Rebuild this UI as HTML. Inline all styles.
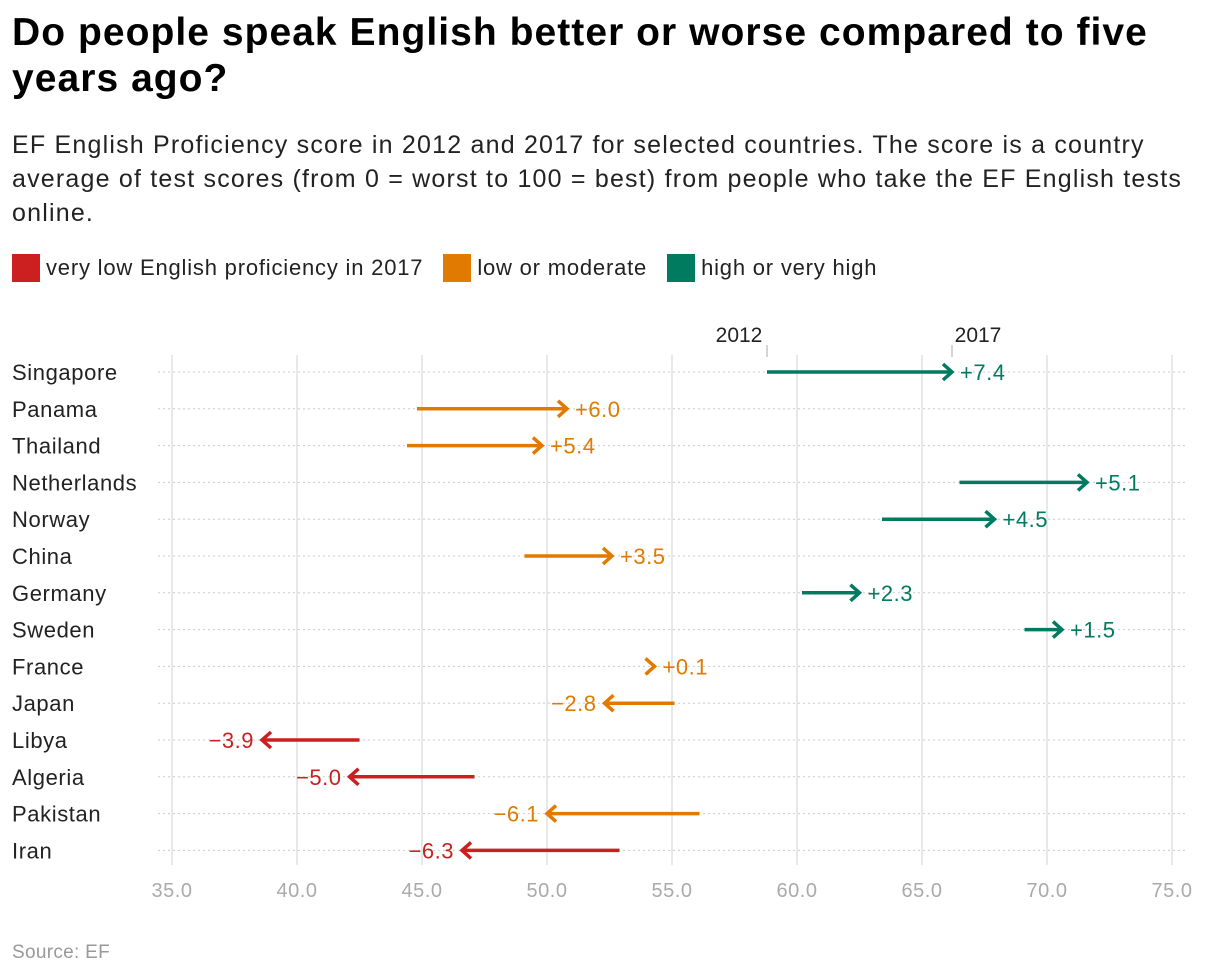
<!DOCTYPE html>
<html><head><meta charset="utf-8">
<style>
body{margin:0;width:1220px;height:978px;background:#fff;font-family:"Liberation Sans",sans-serif;overflow:hidden;position:relative}
h1{position:absolute;left:12px;top:10px;margin:0;font-size:39px;line-height:46px;font-weight:bold;color:#000;width:1210px;white-space:nowrap;letter-spacing:1.05px}
.sub{position:absolute;left:12px;top:128px;font-size:25px;line-height:34px;color:#222;width:1210px;white-space:nowrap;letter-spacing:1.2px}
.legend{position:absolute;left:12px;top:254px;font-size:22px;color:#222;display:flex;align-items:center;letter-spacing:0.8px;white-space:nowrap}
.sw{display:inline-block;width:28px;height:28px;margin-right:6px;vertical-align:middle}
.li{display:flex;align-items:center;margin-right:20px}
.src{position:absolute;left:12px;top:942px;font-size:19px;color:#999;letter-spacing:0.3px}
svg{position:absolute;left:0;top:0}
</style></head><body>
<h1>Do people speak English better or worse compared to five<br>years ago?</h1>
<div class="sub">EF English Proficiency score in 2012 and 2017 for selected countries. The score is a country<br>average of test scores (from 0 = worst to 100 = best) from people who take the EF English tests<br>online.</div>
<div class="legend">
<div class="li"><span class="sw" style="background:#cc1f1f"></span>very low English proficiency in 2017</div>
<div class="li"><span class="sw" style="background:#e07a00"></span>low or moderate</div>
<div class="li"><span class="sw" style="background:#007b60"></span>high or very high</div>
</div>
<svg id="chart" width="1220" height="978"></svg>
<div class="src">Source: EF</div>
<script>
const countries=["Singapore","Panama","Thailand","Netherlands","Norway","China","Germany","Sweden","France","Japan","Libya","Algeria","Pakistan","Iran"];
const v2012=[58.8,44.8,44.4,66.5,63.4,49.1,60.2,69.1,54.2,55.1,42.5,47.1,56.1,52.9];
const v2017=[66.2,50.8,49.8,71.6,67.9,52.6,62.5,70.6,54.3,52.3,38.6,42.1,50.0,46.6];
const changes=["+7.4","+6.0","+5.4","+5.1","+4.5","+3.5","+2.3","+1.5","+0.1","\u22122.8","\u22123.9","\u22125.0","\u22126.1","\u22126.3"];
const groups=["high","low","low","high","high","low","high","high","low","low","vlow","vlow","low","vlow"];
const ticks=[35,40,45,50,55,60,65,70,75];
const colors={high:"#007b60",low:"#e07a00",vlow:"#cc1f1f"};
const svg=document.getElementById('chart');const NS="http://www.w3.org/2000/svg";
const x=v=>172+(v-35)*25;
const y=i=>372+i*36.8;
function mk(t,a,p){const e=document.createElementNS(NS,t);for(const k in a)e.setAttribute(k,a[k]);(p||svg).appendChild(e);return e;}
ticks.forEach(t=>{
 const g=mk('line',{x1:x(t),x2:x(t),y1:355,y2:865,stroke:'#e0e0e0','stroke-width':1.5});
 
 
 const l=mk('text',{x:x(t),y:897,'text-anchor':'middle','font-size':20,fill:'#aaa','letter-spacing':0.5});l.textContent=t.toFixed(1);
 
 
});
countries.forEach((c,i)=>{
 const yy=y(i);
 const h=mk('line',{x1:158,x2:1188,y1:yy,y2:yy,stroke:'#ccc','stroke-dasharray':'2,3','stroke-width':1});
 
 
 const lab=mk('text',{x:12,y:yy+8,'font-size':22,fill:'#222','letter-spacing':0.6});lab.textContent=c;
 
 
 const col=colors[groups[i]];const x0=x(v2012[i]),x1=x(v2017[i]);const d=x1>x0?1:-1;
 const g=mk('g',{});
 
 
 mk('line',{x1:x0,x2:x1-d*2,y1:yy,y2:yy,stroke:col,'stroke-width':3.5},g);
 mk('polyline',{points:`${x1-d*9},${yy-8} ${x1},${yy} ${x1-d*9},${yy+8}`,fill:'none',stroke:col,'stroke-width':3.5},g);
 const t=mk('text',{x:x1+d*8,y:yy+8,'font-size':22,fill:col,'text-anchor':d>0?'start':'end','letter-spacing':0.5});t.textContent=changes[i];
 
 
});
[[v2012[0],'2012'],[v2017[0],'2017']].forEach(([v,s])=>{
 const a=mk('line',{x1:x(v),x2:x(v),y1:345,y2:357,stroke:'#aaa','stroke-width':1});
 
 
 const t=mk('text',{x:x(v)-28,y:342,'font-size':21,fill:'#222','text-anchor':'middle'});t.textContent=s;
 if(s==='2017')t.setAttribute('x',x(v)+26);
 
 
});
</script>
</body></html>
